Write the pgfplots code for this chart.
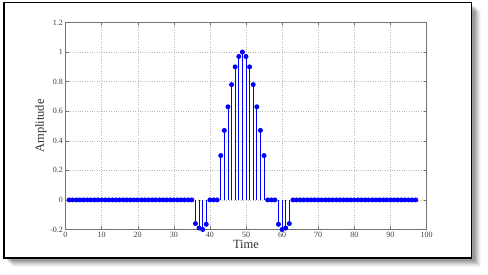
\documentclass[border=0pt]{standalone}
\usepackage{fontspec}
\setmainfont{Liberation Serif}
\usepackage{pgfplots}
\pgfplotsset{compat=1.18}
\begin{document}
\begin{tikzpicture}[x=1pt,y=1pt]
\path[use as bounding box] (0,0) rectangle (488,275);
% drop shadow
\foreach \o/\a in {9/0.04,8/0.05,7/0.06,6/0.07,5/0.08,4/0.09,3/0.1}{
  \fill[black,opacity=\a] (4+\o,17-\o) rectangle (471.7+\o,272.3-\o);
}
\fill[white] (4,17) rectangle (471.7,272.3);
\draw[black,line width=1.3pt] (4,17) rectangle (471.7,272.3);
\begin{axis}[
  at={(65.5pt,45.5pt)}, anchor=south west,
  scale only axis, width=361pt, height=207pt,
  xmin=0, xmax=100, ymin=-0.2, ymax=1.2,
  xtick={0,10,...,100},
  ytick={-0.2,0,0.2,0.4,0.6,0.8,1,1.2},
  yticklabels={-0.2,0,0.2,0.4,0.6,0.8,1,1.2},
  tick align=inside, major tick length=3pt,
  axis line style={black!55, line width=0.5pt},
  tick style={black!55, line width=0.4pt},
  grid=major,
  major grid style={black!28, dotted, line width=0.4pt},
  tick label style={font=\fontsize{8}{9}\selectfont, text=black!75},
  /pgf/number format/assume math mode=true,
  xticklabel style={yshift=1pt},
  yticklabel style={xshift=1pt},
  xlabel={Time}, ylabel={Amplitude},
  label style={font=\fontsize{12.5}{13}\selectfont, text=black!80},
  xlabel style={yshift=4pt},
  ylabel style={yshift=-3pt},
  clip=false,
]
\addplot[ycomb, blue, line width=0.9pt, mark=*, mark size=2pt, mark options={fill=blue, draw=blue}] coordinates {
(1,0)(2,0)(3,0)(4,0)(5,0)(6,0)(7,0)(8,0)(9,0)(10,0)
(11,0)(12,0)(13,0)(14,0)(15,0)(16,0)(17,0)(18,0)(19,0)(20,0)
(21,0)(22,0)(23,0)(24,0)(25,0)(26,0)(27,0)(28,0)(29,0)(30,0)
(31,0)(32,0)(33,0)(34,0)(35,0)
(36,-0.16)(37,-0.19)(38,-0.2)(39,-0.165)
(40,0)(41,0)(42,0)
(43,0.30)(44,0.47)(45,0.63)(46,0.78)(47,0.90)(48,0.97)(49,1.00)
(50,0.97)(51,0.90)(52,0.78)(53,0.63)(54,0.47)(55,0.30)
(56,0)(57,0)(58,0)
(59,-0.165)(60,-0.2)(61,-0.19)(62,-0.16)
(63,0)(64,0)(65,0)(66,0)(67,0)(68,0)(69,0)(70,0)
(71,0)(72,0)(73,0)(74,0)(75,0)(76,0)(77,0)(78,0)(79,0)(80,0)
(81,0)(82,0)(83,0)(84,0)(85,0)(86,0)(87,0)(88,0)(89,0)(90,0)
(91,0)(92,0)(93,0)(94,0)(95,0)(96,0)(97,0)
};
\end{axis}
\end{tikzpicture}
\end{document}
